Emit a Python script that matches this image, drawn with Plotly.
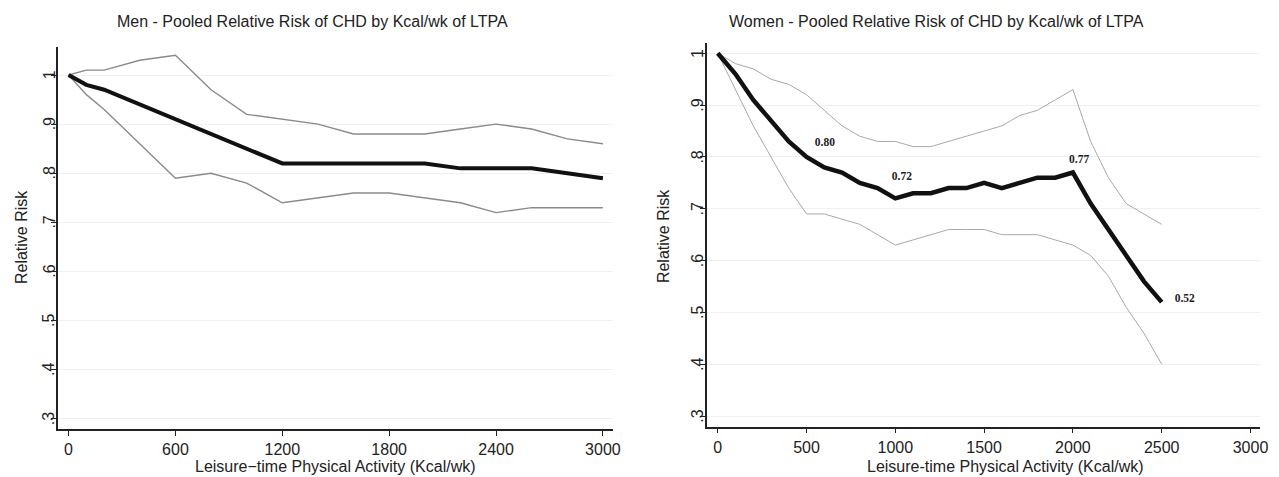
import plotly.graph_objects as go

W, H = 1279, 477

# ---------------- data ----------------
men_x = [0, 100, 200, 400, 600, 800, 1000, 1200, 1400, 1600, 1800, 2000, 2200, 2400, 2600, 2800, 3000]
men_rr = [1.00, 0.98, 0.97, 0.94, 0.91, 0.88, 0.85, 0.82, 0.82, 0.82, 0.82, 0.82, 0.81, 0.81, 0.81, 0.80, 0.79]
men_upper = [1.00, 1.01, 1.01, 1.03, 1.04, 0.97, 0.92, 0.91, 0.90, 0.88, 0.88, 0.88, 0.89, 0.90, 0.89, 0.87, 0.86]
men_lower = [1.00, 0.96, 0.93, 0.86, 0.79, 0.80, 0.78, 0.74, 0.75, 0.76, 0.76, 0.75, 0.74, 0.72, 0.73, 0.73, 0.73]

women_x = [0, 100, 200, 300, 400, 500, 600, 700, 800, 900, 1000, 1100, 1200, 1300, 1400,
           1500, 1600, 1700, 1800, 1900, 2000, 2100, 2200, 2300, 2400, 2500]
women_rr = [1.00, 0.96, 0.91, 0.87, 0.83, 0.80, 0.78, 0.77, 0.75, 0.74, 0.72, 0.73, 0.73, 0.74, 0.74,
            0.75, 0.74, 0.75, 0.76, 0.76, 0.77, 0.71, 0.66, 0.61, 0.56, 0.52]
women_upper = [1.00, 0.98, 0.97, 0.95, 0.94, 0.92, 0.89, 0.86, 0.84, 0.83, 0.83, 0.82, 0.82, 0.83, 0.84,
               0.85, 0.86, 0.88, 0.89, 0.91, 0.93, 0.83, 0.76, 0.71, 0.69, 0.67]
women_lower = [1.00, 0.93, 0.86, 0.80, 0.74, 0.69, 0.69, 0.68, 0.67, 0.65, 0.63, 0.64, 0.65, 0.66, 0.66,
               0.66, 0.65, 0.65, 0.65, 0.64, 0.63, 0.61, 0.57, 0.51, 0.46, 0.40]

women_label_text = ["0.80", "0.72", "0.77", "0.52"]
women_label_x = [603, 1037, 2035, 2630]
women_label_y = [0.826, 0.761, 0.793, 0.525]

y_tickvals = [0.3, 0.4, 0.5, 0.6, 0.7, 0.8, 0.9, 1.0]
y_ticktext = [".3", ".4", ".5", ".6", ".7", ".8", ".9", "1"]
men_xticks = [0, 600, 1200, 1800, 2400, 3000]
women_xticks = [0, 500, 1000, 1500, 2000, 2500, 3000]

titles = ["Men - Pooled Relative Risk of CHD by Kcal/wk of LTPA",
          "Women - Pooled Relative Risk of CHD by Kcal/wk of LTPA"]
xtitles = ["Leisure\u2212time Physical Activity (Kcal/wk)",
           "Leisure-time Physical Activity (Kcal/wk)"]
ytitle = "Relative Risk"

# ---------------- figure ----------------
FONT = "Liberation Sans, Arial, Helvetica, sans-serif"
fig = go.Figure()

# Men
fig.add_trace(go.Scatter(x=men_x, y=men_upper, mode="lines", line=dict(color="#8a8a8a", width=1.4),
                         xaxis="x", yaxis="y", hoverinfo="skip"))
fig.add_trace(go.Scatter(x=men_x, y=men_lower, mode="lines", line=dict(color="#8a8a8a", width=1.4),
                         xaxis="x", yaxis="y", hoverinfo="skip"))
fig.add_trace(go.Scatter(x=men_x, y=men_rr, mode="lines", line=dict(color="#111111", width=4),
                         xaxis="x", yaxis="y"))

# Women
fig.add_trace(go.Scatter(x=women_x, y=women_upper, mode="lines", line=dict(color="#a8a8a8", width=1),
                         xaxis="x2", yaxis="y2", hoverinfo="skip"))
fig.add_trace(go.Scatter(x=women_x, y=women_lower, mode="lines", line=dict(color="#a8a8a8", width=1),
                         xaxis="x2", yaxis="y2", hoverinfo="skip"))
fig.add_trace(go.Scatter(x=women_x, y=women_rr, mode="lines", line=dict(color="#111111", width=4.5),
                         xaxis="x2", yaxis="y2"))
fig.add_trace(go.Scatter(x=women_label_x, y=women_label_y, mode="text", text=women_label_text,
                         textfont=dict(family="Liberation Serif, Times New Roman, serif", size=11.5,
                                       color="#222222", weight="bold"),
                         xaxis="x2", yaxis="y2", hoverinfo="skip"))

axis_common = dict(showline=True, linecolor="#222222", linewidth=1.5, ticks="outside", ticklen=5,
                   tickwidth=1.2, tickcolor="#222222", zeroline=False,
                   tickfont=dict(family=FONT, size=16, color="#222222"))

fig.update_layout(
    width=W, height=H, margin=dict(l=0, r=0, t=0, b=0),
    paper_bgcolor="white", plot_bgcolor="white", showlegend=False,
    xaxis=dict(domain=[58.3 / W, 616.7 / W], range=[-59.7, 3055.8], tickvals=men_xticks,
               showgrid=False, anchor="y", **axis_common),
    yaxis=dict(domain=[1 - 429 / H, 1 - 46.7 / H], range=[0.2796, 1.0576], tickvals=y_tickvals,
               showticklabels=False, showgrid=True, gridcolor="#f0f0f0", gridwidth=1,
               anchor="x", **axis_common),
    xaxis2=dict(domain=[711 / W, 1268 / W], range=[-63, 3054], tickvals=women_xticks,
                showgrid=False, anchor="y2", **axis_common),
    yaxis2=dict(domain=[1 - 426.7 / H, 1 - 43.3 / H], range=[0.2796, 1.0193], tickvals=y_tickvals,
                showticklabels=False, showgrid=True, gridcolor="#f0f0f0", gridwidth=1,
                anchor="x2", **axis_common),
)

def px_x(p):
    return p / W

def px_y(p):
    return 1 - p / H

ann = []
tfont = dict(family=FONT, size=16, color="#222222")
# rotated y tick labels, placed against the tick marks
for yref, xpos in (("y", 49.5), ("y2", 702.0)):
    for v, t in zip(y_tickvals, y_ticktext):
        ann.append(dict(text=t, x=px_x(xpos), y=v, xref="paper", yref=yref, showarrow=False,
                        xanchor="center", yanchor="middle", textangle=-90,
                        font=dict(family=FONT, size=16, color="#222222")))
ann.append(dict(text=titles[0], x=px_x(314.8), y=px_y(21.7), xref="paper", yref="paper",
                showarrow=False, xanchor="center", yanchor="middle", font=tfont))
ann.append(dict(text=titles[1], x=px_x(942.5), y=px_y(21.7), xref="paper", yref="paper",
                showarrow=False, xanchor="center", yanchor="middle", font=tfont))
ann.append(dict(text=xtitles[0], x=px_x(338), y=px_y(466.5), xref="paper", yref="paper",
                showarrow=False, xanchor="center", yanchor="middle", font=tfont))
ann.append(dict(text=xtitles[1], x=px_x(1012), y=px_y(466.5), xref="paper", yref="paper",
                showarrow=False, xanchor="center", yanchor="middle", font=tfont))
ann.append(dict(text=ytitle, x=px_x(21.7), y=px_y(237.5), xref="paper", yref="paper",
                showarrow=False, xanchor="center", yanchor="middle", textangle=-90, font=tfont))
ann.append(dict(text=ytitle, x=px_x(668.3), y=px_y(236), xref="paper", yref="paper",
                showarrow=False, xanchor="center", yanchor="middle", textangle=-90, font=tfont))
fig.update_layout(annotations=ann)

fig.write_html("out.html")
